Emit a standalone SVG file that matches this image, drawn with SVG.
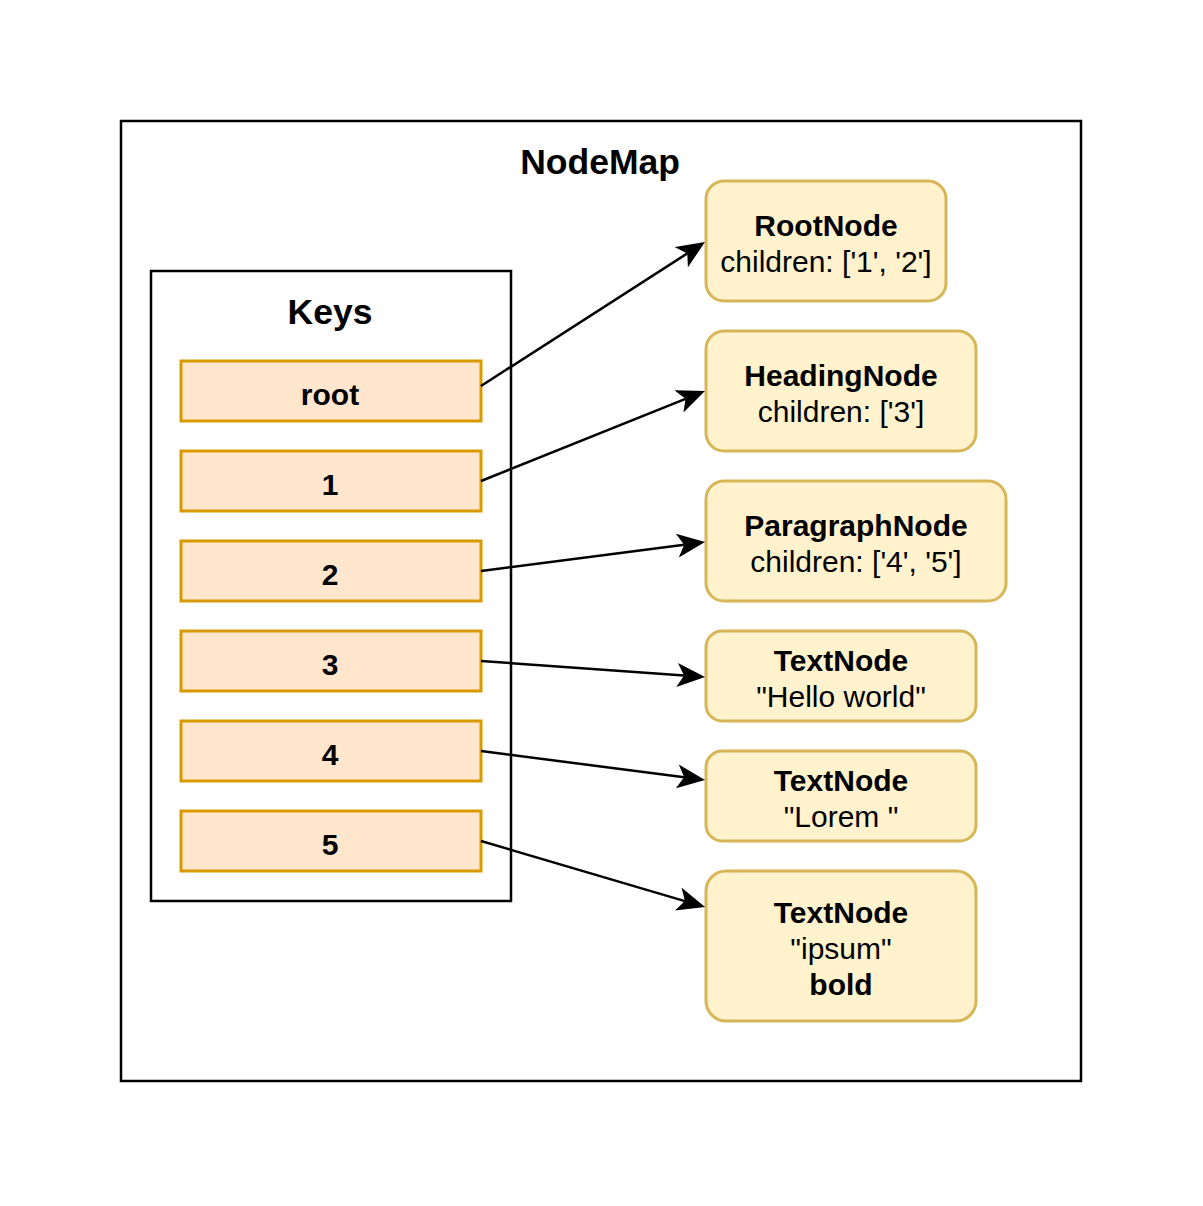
<svg xmlns="http://www.w3.org/2000/svg" width="1203" height="1206" viewBox="0 0 1203 1206">
<style>
text{font-family:"Liberation Sans",Arial,sans-serif;fill:#000;text-anchor:middle}
.t{font-size:35.5px;font-weight:bold}
.b{font-size:30px;font-weight:bold}
.r{font-size:30px}
.key{fill:#ffe6cc;stroke:#d79b00;stroke-width:3}
.node{fill:#fff2cc;stroke:#d6b656;stroke-width:3}
.edge{fill:none;stroke:#000;stroke-width:2.5}
</style>
<defs>
<marker id="arr" viewBox="0 0 28 24" refX="7" refY="12" markerWidth="28" markerHeight="24" markerUnits="userSpaceOnUse" orient="auto">
<path d="M0,0 L28,12 L0,24 L7,12 Z" fill="#000"/>
</marker>
</defs>
<rect width="1203" height="1206" fill="#fff"/>
<g id="nodemap">
<rect x="121" y="121" width="960" height="960" fill="#fff" stroke="#000" stroke-width="2.5"/>
<text class="t" x="600" y="174">NodeMap</text>
</g>
<g id="keys">
<rect x="151" y="271" width="360" height="630" fill="#fff" stroke="#000" stroke-width="2.5"/>
<text class="t" x="330" y="324">Keys</text>
</g>
<g id="key-root"><rect class="key" x="181" y="361" width="300" height="60"/><text class="b" x="330" y="405">root</text></g>
<g id="key-1"><rect class="key" x="181" y="451" width="300" height="60"/><text class="b" x="330" y="495">1</text></g>
<g id="key-2"><rect class="key" x="181" y="541" width="300" height="60"/><text class="b" x="330" y="585">2</text></g>
<g id="key-3"><rect class="key" x="181" y="631" width="300" height="60"/><text class="b" x="330" y="675">3</text></g>
<g id="key-4"><rect class="key" x="181" y="721" width="300" height="60"/><text class="b" x="330" y="765">4</text></g>
<g id="key-5"><rect class="key" x="181" y="811" width="300" height="60"/><text class="b" x="330" y="855">5</text></g>
<g id="root-node"><rect class="node" x="706" y="181" width="240" height="120" rx="18"/><text class="b" x="826" y="236">RootNode</text><text class="r" x="826" y="272">children: ['1', '2']</text></g>
<g id="heading-node"><rect class="node" x="706" y="331" width="270" height="120" rx="18"/><text class="b" x="841" y="386">HeadingNode</text><text class="r" x="841" y="422">children: ['3']</text></g>
<g id="paragraph-node"><rect class="node" x="706" y="481" width="300" height="120" rx="18"/><text class="b" x="856" y="536">ParagraphNode</text><text class="r" x="856" y="572">children: ['4', '5']</text></g>
<g id="text-node-3"><rect class="node" x="706" y="631" width="270" height="90" rx="16"/><text class="b" x="841" y="671">TextNode</text><text class="r" x="841" y="707">"Hello world"</text></g>
<g id="text-node-4"><rect class="node" x="706" y="751" width="270" height="90" rx="16"/><text class="b" x="841" y="791">TextNode</text><text class="r" x="841" y="827">"Lorem "</text></g>
<g id="text-node-5"><rect class="node" x="706" y="871" width="270" height="150" rx="20"/><text class="b" x="841" y="923">TextNode</text><text class="r" x="841" y="959">"ipsum"</text><text class="b" x="841" y="995">bold</text></g>
<g id="connectors">
<line class="edge" x1="481" y1="386" x2="687.3" y2="253.4" marker-end="url(#arr)"/>
<line class="edge" x1="481" y1="481" x2="685.5" y2="398.8" marker-end="url(#arr)"/>
<line class="edge" x1="481" y1="571" x2="684.2" y2="544.7" marker-end="url(#arr)"/>
<line class="edge" x1="481" y1="661" x2="684.1" y2="675.5" marker-end="url(#arr)"/>
<line class="edge" x1="481" y1="751" x2="684.2" y2="777.3" marker-end="url(#arr)"/>
<line class="edge" x1="481" y1="841" x2="684.9" y2="901.1" marker-end="url(#arr)"/>
</g>
</svg>
